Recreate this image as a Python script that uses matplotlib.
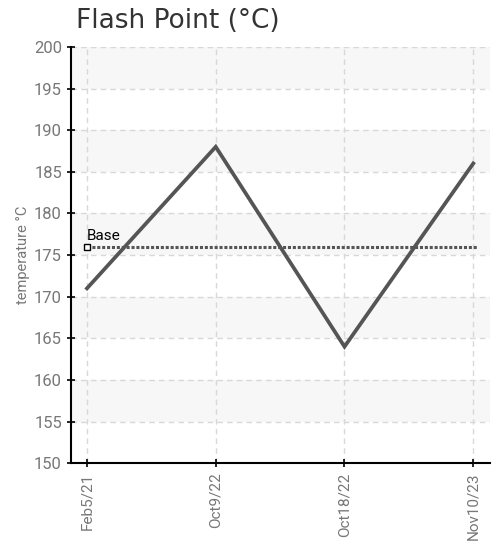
import matplotlib
matplotlib.use("Agg")
import matplotlib.pyplot as plt

# flash point readings per sample date
dates = ["Feb5/21", "Oct9/22", "Oct18/22", "Nov10/23"]
flash_point = [171, 188, 164, 186]
base_value = 176
y_ticks = [150, 155, 160, 165, 170, 175, 180, 185, 190, 195, 200]

narrow = ["Liberation Sans Narrow", "Roboto", "DejaVu Sans"]

fig = plt.figure(figsize=(5, 5.45), dpi=100)
ax = fig.add_axes([0.142, 0.150, 0.838, 0.764])

x = list(range(len(dates)))

# alternating light bands
for lo in range(155, 200, 10):
    ax.axhspan(lo, lo + 5, color="#f7f7f7", zorder=0, lw=0)

ax.grid(True, color="#d8d8d8", linestyle=(0, (4, 3)), linewidth=1, zorder=1)

ax.plot(x, flash_point, color="#555555", linewidth=2.7, zorder=3,
        solid_joinstyle="miter")

ax.plot([x[0], x[-1] + 0.03], [base_value, base_value], color="#555555",
        linewidth=2.2, linestyle=(0, (1, 0.6)), zorder=2)
ax.plot([x[0]], [base_value], marker="s", markersize=5, markerfacecolor="white",
        markeredgecolor="black", markeredgewidth=1, zorder=4)
ax.text(x[0], base_value + 0.5, "Base", fontsize=11, family=narrow,
        color="black", ha="left", va="bottom", zorder=5)

ax.set_xlim(-0.124, 3.13)
ax.set_ylim(150, 200)
ax.set_xticks(x)
ax.set_xticklabels(dates, rotation=90, family=narrow, fontsize=11, color="#777777")
ax.set_yticks(y_ticks)
ax.set_yticklabels([str(v) for v in y_ticks], family=narrow, fontsize=12, color="#777777")
ax.tick_params(direction="inout", length=6, width=1.2, color="black")

for s in ["top", "right"]:
    ax.spines[s].set_visible(False)
for s in ["left", "bottom"]:
    ax.spines[s].set_linewidth(1.5)
    ax.spines[s].set_color("black")

ax.set_ylabel("temperature °C", family=narrow, fontsize=10.5, color="#777777", labelpad=3)

fig.text(0.152, 0.9486, "Flash Point (°C)", fontsize=19, color="#333333",
         ha="left", va="baseline")

fig.savefig("out.png", dpi=100)
